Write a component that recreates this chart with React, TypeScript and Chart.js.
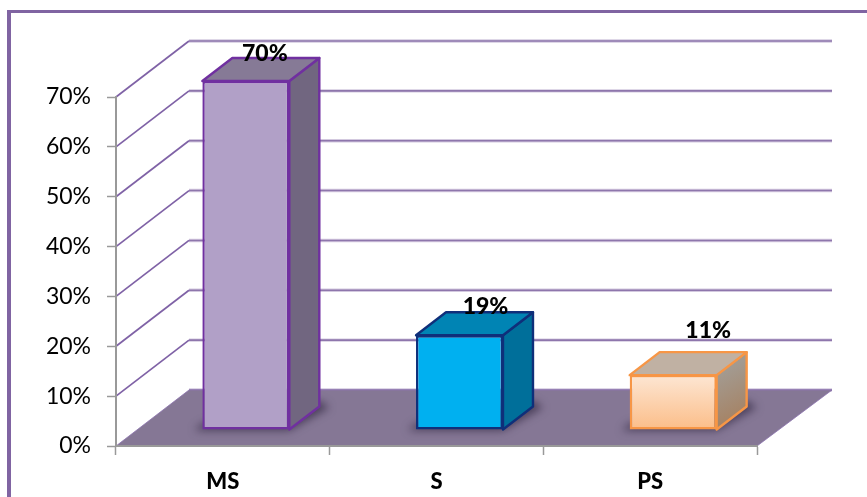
import React, { useEffect, useRef } from "react";
import { Chart, registerables } from "chart.js";

Chart.register(...registerables);

const categories = ["MS", "S", "PS"];
const values = [70, 19, 11];
const valueLabels = ["70%", "19%", "11%"];
const tickValues = [0, 10, 20, 30, 40, 50, 60, 70];

const frontTop = ["#b1a0c7", "#00b0f0", "#fde6d3"];
const frontBottom = ["#b1a0c7", "#00b0f0", "#fbbd88"];
const borderColors = ["#7030a0", "#0f2f7a", "#f79646"];
const topColors = ["#867a96", "#0084b4", "#c0b1a3"];
const sideTop = ["#716680", "#006f9a", "#a39a90"];
const sideBottom = ["#716680", "#006f9a", "#a67c58"];
const labelRise = [27.5, 28.5, 44.5];
const labelShift = [19, 26, 35];

const FONT = "Lato, 'Open Sans', sans-serif";
const WALL = { dx: 73, dy: -56 };
const BAR_SHIFT = { dx: 23, dy: -16 };
const DEPTH = { dx: 30, dy: -23 };

function poly(ctx: CanvasRenderingContext2D, pts: number[][]) {
  ctx.beginPath();
  pts.forEach((p, i) => (i ? ctx.lineTo(p[0], p[1]) : ctx.moveTo(p[0], p[1])));
  ctx.closePath();
}

const scene = {
  id: "scene",
  beforeDraw(chart: any) {
    const { ctx, chartArea: a, scales } = chart;
    const y = scales.y;
    ctx.save();
    ctx.fillStyle = "#ffffff";
    ctx.fillRect(0, 0, chart.width, chart.height);
    ctx.fillStyle = "#8064a2";
    ctx.fillRect(7, 10, 860, 3);
    ctx.fillRect(7, 10, 4, 487);

    const backR = a.right + WALL.dx + 2;
    tickValues.forEach((v) => {
      const py = y.getPixelForValue(v);
      const by = py + WALL.dy;
      if (v !== 0) {
        ctx.strokeStyle = "#7f62a6";
        ctx.lineWidth = 1.7;
        ctx.beginPath();
        ctx.moveTo(a.left, py);
        ctx.lineTo(a.left + WALL.dx, by);
        ctx.stroke();
      }
      ctx.strokeStyle = "rgba(128,100,162,0.35)";
      ctx.lineWidth = 3.4;
      ctx.beginPath();
      ctx.moveTo(a.left + WALL.dx, by);
      ctx.lineTo(backR, by);
      ctx.stroke();
      ctx.strokeStyle = "#8e76ac";
      ctx.lineWidth = 1.6;
      ctx.stroke();
    });

    const y0 = y.getPixelForValue(0);
    poly(ctx, [
      [a.left, y0],
      [a.right, y0],
      [backR, y0 + WALL.dy],
      [a.left + WALL.dx, y0 + WALL.dy],
    ]);
    ctx.fillStyle = "#857795";
    ctx.fill();
    ctx.strokeStyle = "rgba(140,115,175,0.8)";
    ctx.lineWidth = 1;
    ctx.stroke();
    ctx.restore();
  },
  beforeDatasetsDraw(chart: any) {
    const { ctx } = chart;
    const meta = chart.getDatasetMeta(0);
    ctx.save();
    ctx.translate(BAR_SHIFT.dx, BAR_SHIFT.dy);
    meta.data.forEach((bar: any, i: number) => {
      const l = bar.x - bar.width / 2;
      const r = bar.x + bar.width / 2;
      const t = bar.y;
      const b = bar.base;

      ctx.save();
      ctx.filter = "blur(4px)";
      ctx.fillStyle = "rgba(50,40,65,0.7)";
      poly(ctx, [
        [l - 8, b + 1],
        [r, b + 1],
        [r + DEPTH.dx + 10, b + DEPTH.dy + 1],
        [r + DEPTH.dx, b + DEPTH.dy - 6],
        [l, b - 6],
      ]);
      ctx.fill();
      ctx.restore();

      ctx.lineWidth = 2.4;
      ctx.lineJoin = "round";
      ctx.strokeStyle = borderColors[i];

      const side = ctx.createLinearGradient(r, t, r + DEPTH.dx, b);
      side.addColorStop(0, sideTop[i]);
      side.addColorStop(1, sideBottom[i]);
      poly(ctx, [
        [r, t],
        [r + DEPTH.dx, t + DEPTH.dy],
        [r + DEPTH.dx, b + DEPTH.dy],
        [r, b],
      ]);
      ctx.fillStyle = side;
      ctx.fill();
      ctx.stroke();

      poly(ctx, [
        [l, t],
        [l + DEPTH.dx, t + DEPTH.dy],
        [r + DEPTH.dx, t + DEPTH.dy],
        [r, t],
      ]);
      ctx.fillStyle = topColors[i];
      ctx.fill();
      ctx.stroke();
    });
    ctx.restore();
    ctx.save();
    ctx.translate(BAR_SHIFT.dx, BAR_SHIFT.dy);
  },
  afterDatasetsDraw(chart: any) {
    const { ctx } = chart;
    ctx.restore();
    const meta = chart.getDatasetMeta(0);
    ctx.save();
    ctx.fillStyle = "#000000";
    ctx.font = `900 23px ${FONT}`;
    ctx.textAlign = "center";
    ctx.textBaseline = "middle";
    meta.data.forEach((bar: any, i: number) => {
      ctx.fillText(
        valueLabels[i],
        bar.x + BAR_SHIFT.dx + labelShift[i],
        bar.y + BAR_SHIFT.dy - labelRise[i]
      );
    });
    ctx.restore();
  },
};

export default function App() {
  const ref = useRef<HTMLCanvasElement>(null);
  useEffect(() => {
    const chart = new Chart(ref.current!, {
      type: "bar",
      plugins: [scene],
      data: {
        labels: categories,
        datasets: [
          {
            data: values,
            barPercentage: 0.407,
            categoryPercentage: 1,
            borderWidth: 2.4,
            borderSkipped: false,
            borderColor: borderColors,
            backgroundColor: (c: any) => {
              const { chart: ch, dataIndex: i } = c;
              if (i === undefined || !ch.chartArea) return frontBottom[i ?? 0];
              const g = ch.ctx.createLinearGradient(
                0,
                ch.scales.y.getPixelForValue(values[i]),
                0,
                ch.scales.y.getPixelForValue(0)
              );
              g.addColorStop(0, frontTop[i]);
              g.addColorStop(1, frontBottom[i]);
              return g;
            },
          },
        ],
      },
      options: {
        responsive: false,
        animation: false,
        layout: { padding: { top: 97, right: 110, left: 0, bottom: 0 } },
        plugins: {
          legend: { display: false },
          title: { display: false },
          tooltip: { enabled: false },
        },
        scales: {
          x: {
            afterFit: (s: any) => {
              s.height = 51;
            },
            border: { color: "#999999", width: 2 },
            grid: {
              drawOnChartArea: false,
              drawTicks: true,
              tickLength: 9,
              tickColor: "#999999",
              tickWidth: 1.5,
              offset: true,
            },
            ticks: {
              color: "#000000",
              padding: 14,
              font: { family: FONT, size: 22, weight: "900" },
            },
          },
          y: {
            min: 0,
            max: 70,
            afterFit: (s: any) => {
              s.width = 116;
            },
            afterBuildTicks: (s: any) => {
              s.ticks = tickValues.map((value) => ({ value }));
            },
            border: { color: "#999999", width: 2 },
            grid: {
              drawOnChartArea: false,
              drawTicks: true,
              tickLength: 9,
              tickColor: "#999999",
              tickWidth: 1.5,
            },
            ticks: {
              color: "#000000",
              padding: 16,
              font: { family: FONT, size: 23 },
              callback: (v: any) => `${v}%`,
            },
          },
        },
      },
    } as any);
    return () => chart.destroy();
  }, []);
  return (
    <div style={{ position: "fixed", left: 0, top: 0, width: 867, height: 497 }}>
      <canvas ref={ref} width={867} height={497} style={{ display: "block" }} />
    </div>
  );
}
